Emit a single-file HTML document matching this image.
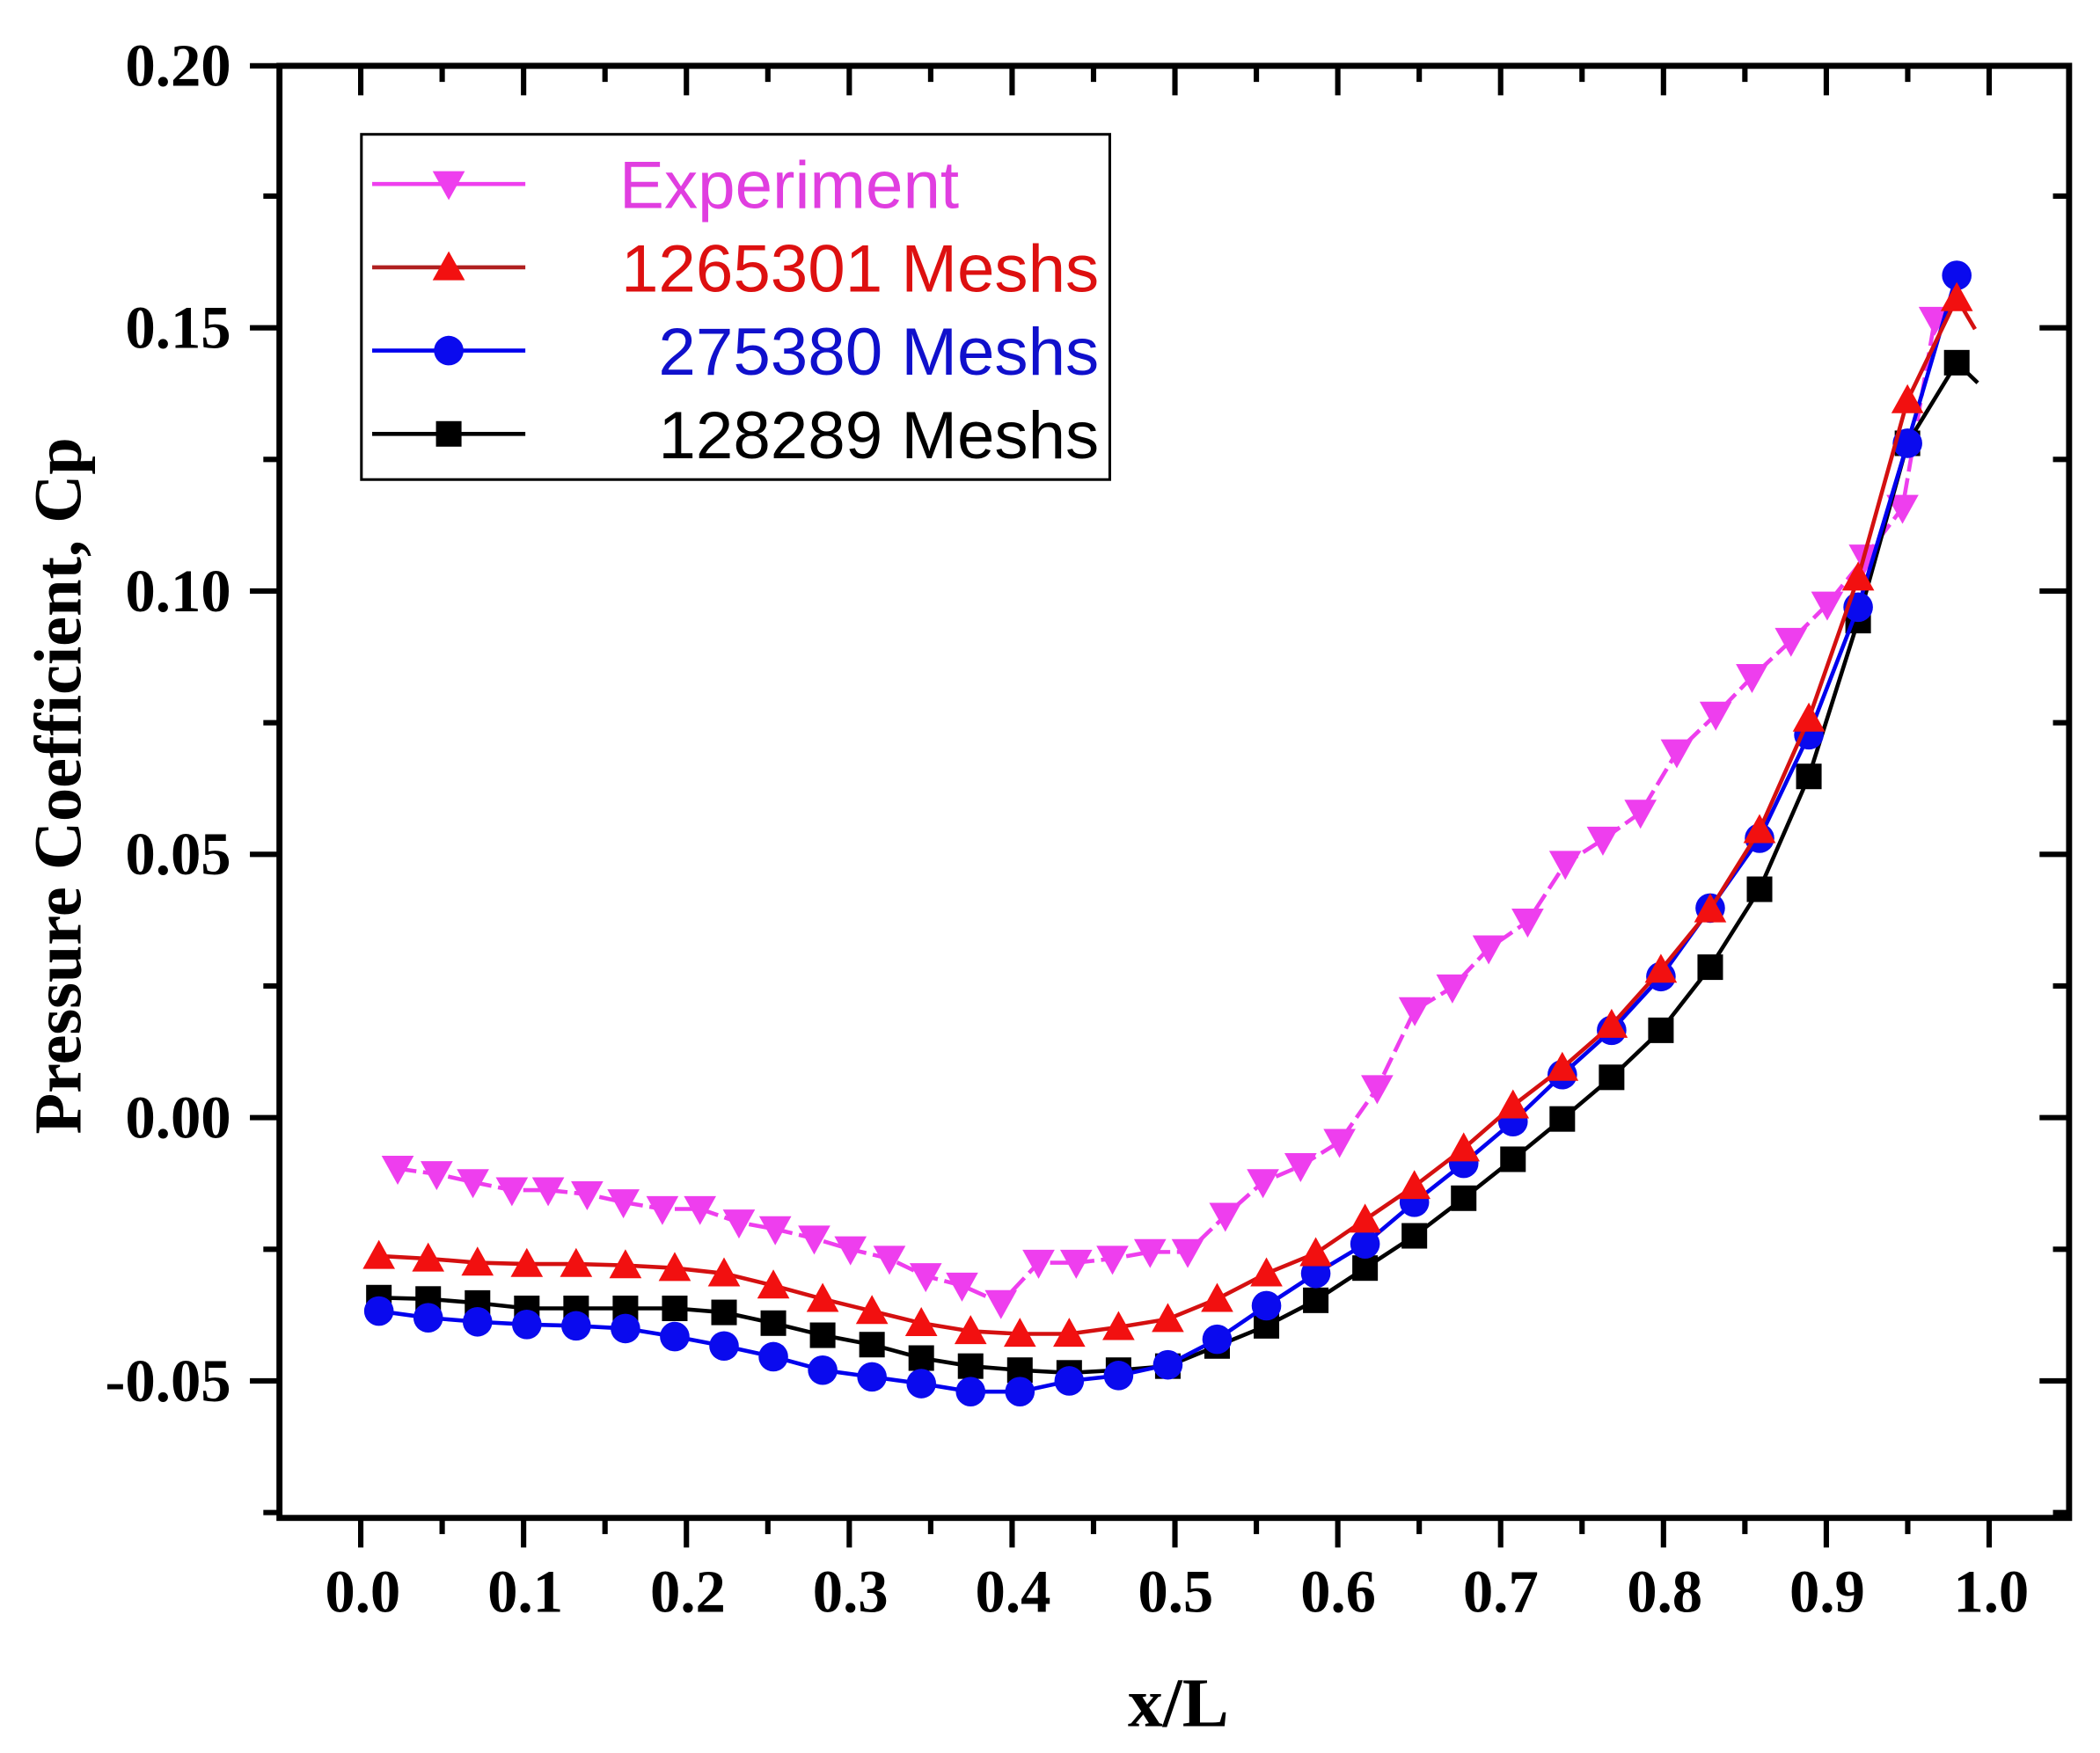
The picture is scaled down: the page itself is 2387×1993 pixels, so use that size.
<!DOCTYPE html>
<html><head><meta charset="utf-8"><style>html,body{margin:0;padding:0;background:#fff}svg{display:block}</style></head>
<body>
<svg width="2387" height="1993" viewBox="0 0 1563 1305" preserveAspectRatio="none" xmlns="http://www.w3.org/2000/svg" xmlns:xlink="http://www.w3.org/1999/xlink">
<defs>
<path id="dt" d="M-12,-9.6 L12,-9.6 L0,12Z" fill="#ee3eee"/>
<path id="ut" d="M-12,9.6 L12,9.6 L0,-12Z" fill="#f21010"/>
<circle id="ci" r="11" cx="0" cy="0" fill="#0a0aee"/>
<rect id="sq" x="-9.5" y="-9.5" width="19" height="19" fill="#000"/>
</defs>
<rect width="1563" height="1305" fill="#fff"/>
<g stroke="#000" stroke-width="4" fill="none">
<path d="M268.5,1130v22M329.1,1130v12M389.7,1130v22M450.3,1130v12M510.9,1130v22M571.5,1130v12M632.1,1130v22M692.7,1130v12M753.3,1130v22M813.9,1130v12M874.5,1130v22M935.1,1130v12M995.7,1130v22M1056.3,1130v12M1116.9,1130v22M1177.5,1130v12M1238.1,1130v22M1298.7,1130v12M1359.3,1130v22M1419.9,1130v12M1480.5,1130v22"/>
<path d="M268.5,49v22M329.1,49v12M389.7,49v22M450.3,49v12M510.9,49v22M571.5,49v12M632.1,49v22M692.7,49v12M753.3,49v22M813.9,49v12M874.5,49v22M935.1,49v12M995.7,49v22M1056.3,49v12M1116.9,49v22M1177.5,49v12M1238.1,49v22M1298.7,49v12M1359.3,49v22M1419.9,49v12M1480.5,49v22"/>
<path d="M208,1126h-12M208,1028h-22M208,930h-12M208,832h-22M208,734h-12M208,636h-22M208,538h-12M208,440h-22M208,342h-12M208,244h-22M208,146h-12M208,49h-22"/>
<path d="M1540,1126h-12M1540,1028h-22M1540,930h-12M1540,832h-22M1540,734h-12M1540,636h-22M1540,538h-12M1540,440h-22M1540,342h-12M1540,244h-22M1540,146h-12"/>
</g>
<rect x="208" y="49" width="1332" height="1081" fill="none" stroke="#000" stroke-width="4.5"/>
<g font-family="Liberation Serif, serif" font-weight="bold" font-size="45" text-anchor="middle">
<text x="270" y="1200">0.0</text><text x="391" y="1200">0.1</text><text x="512" y="1200">0.2</text><text x="633" y="1200">0.3</text><text x="754" y="1200">0.4</text><text x="875" y="1200">0.5</text><text x="996" y="1200">0.6</text><text x="1117" y="1200">0.7</text><text x="1239" y="1200">0.8</text><text x="1360" y="1200">0.9</text><text x="1482" y="1200">1.0</text>
</g>
<g font-family="Liberation Serif, serif" font-weight="bold" font-size="45" text-anchor="end">
<text x="172" y="1043">-0.05</text><text x="172" y="847">0.00</text><text x="172" y="651">0.05</text><text x="172" y="455">0.10</text><text x="172" y="259">0.15</text><text x="172" y="64">0.20</text>
</g>
<text x="877" y="1285" text-anchor="middle" font-family="Liberation Serif, serif" font-weight="bold" font-size="52">x/L</text>
<text x="0" y="0" transform="translate(60,585) rotate(-90)" text-anchor="middle" font-family="Liberation Serif, serif" font-weight="bold" font-size="50">Pressure Coefficient, Cp</text>

<polyline fill="none" stroke="#ee3eee" stroke-width="3" stroke-dasharray="14,5" points="296,870 325,874 352,880 381,886 408,886 437,889 464,895 493,900 521,900 550,910 577,915 606,922 633,930 662,937 689,950 716,957 745,970 773,940 801,940 828,937 856,932 884,932 912,905 940,880 968,868 997,850 1025,810 1053,752 1081,735 1108,706 1137,686 1165,643 1193,625 1221,605 1248,560 1277,532 1304,504 1333,477 1360,450 1388,415 1416,378 1440,238"/>
<g>
<use xlink:href="#dt" x="296" y="870"/><use xlink:href="#dt" x="325" y="874"/><use xlink:href="#dt" x="352" y="880"/><use xlink:href="#dt" x="381" y="886"/><use xlink:href="#dt" x="408" y="886"/><use xlink:href="#dt" x="437" y="889"/><use xlink:href="#dt" x="464" y="895"/><use xlink:href="#dt" x="493" y="900"/><use xlink:href="#dt" x="521" y="900"/><use xlink:href="#dt" x="550" y="910"/><use xlink:href="#dt" x="577" y="915"/><use xlink:href="#dt" x="606" y="922"/><use xlink:href="#dt" x="633" y="930"/><use xlink:href="#dt" x="662" y="937"/><use xlink:href="#dt" x="689" y="950"/><use xlink:href="#dt" x="716" y="957"/><use xlink:href="#dt" x="745" y="970"/><use xlink:href="#dt" x="773" y="940"/><use xlink:href="#dt" x="801" y="940"/><use xlink:href="#dt" x="828" y="937"/><use xlink:href="#dt" x="856" y="932"/><use xlink:href="#dt" x="884" y="932"/><use xlink:href="#dt" x="912" y="905"/><use xlink:href="#dt" x="940" y="880"/><use xlink:href="#dt" x="968" y="868"/><use xlink:href="#dt" x="997" y="850"/><use xlink:href="#dt" x="1025" y="810"/><use xlink:href="#dt" x="1053" y="752"/><use xlink:href="#dt" x="1081" y="735"/><use xlink:href="#dt" x="1108" y="706"/><use xlink:href="#dt" x="1137" y="686"/><use xlink:href="#dt" x="1165" y="643"/><use xlink:href="#dt" x="1193" y="625"/><use xlink:href="#dt" x="1221" y="605"/><use xlink:href="#dt" x="1248" y="560"/><use xlink:href="#dt" x="1277" y="532"/><use xlink:href="#dt" x="1304" y="504"/><use xlink:href="#dt" x="1333" y="477"/><use xlink:href="#dt" x="1360" y="450"/><use xlink:href="#dt" x="1388" y="415"/><use xlink:href="#dt" x="1416" y="378"/><use xlink:href="#dt" x="1440" y="238"/>
</g>

<polyline fill="none" stroke="#000" stroke-width="3" points="282,966 318.7,967 355.4,970 392.1,974 428.8,974 465.5,974 502.2,974 538.9,977 575.6,985 612.3,994 649,1001 685.7,1011 722.4,1017 759.1,1020 795.8,1022 832.5,1020 869.2,1017 905.9,1002 942.6,987 979.3,968 1016,944 1052.7,920 1089.4,892 1126.1,863 1162.8,833 1199.5,802 1236.2,767 1272.9,720 1309.6,662 1346.3,578 1383,462 1419.7,330 1456.4,270 1472,285"/>
<g>
<use xlink:href="#sq" x="282" y="966"/><use xlink:href="#sq" x="318.7" y="967"/><use xlink:href="#sq" x="355.4" y="970"/><use xlink:href="#sq" x="392.1" y="974"/><use xlink:href="#sq" x="428.8" y="974"/><use xlink:href="#sq" x="465.5" y="974"/><use xlink:href="#sq" x="502.2" y="974"/><use xlink:href="#sq" x="538.9" y="977"/><use xlink:href="#sq" x="575.6" y="985"/><use xlink:href="#sq" x="612.3" y="994"/><use xlink:href="#sq" x="649" y="1001"/><use xlink:href="#sq" x="685.7" y="1011"/><use xlink:href="#sq" x="722.4" y="1017"/><use xlink:href="#sq" x="759.1" y="1020"/><use xlink:href="#sq" x="795.8" y="1022"/><use xlink:href="#sq" x="832.5" y="1020"/><use xlink:href="#sq" x="869.2" y="1017"/><use xlink:href="#sq" x="905.9" y="1002"/><use xlink:href="#sq" x="942.6" y="987"/><use xlink:href="#sq" x="979.3" y="968"/><use xlink:href="#sq" x="1016" y="944"/><use xlink:href="#sq" x="1052.7" y="920"/><use xlink:href="#sq" x="1089.4" y="892"/><use xlink:href="#sq" x="1126.1" y="863"/><use xlink:href="#sq" x="1162.8" y="833"/><use xlink:href="#sq" x="1199.5" y="802"/><use xlink:href="#sq" x="1236.2" y="767"/><use xlink:href="#sq" x="1272.9" y="720"/><use xlink:href="#sq" x="1309.6" y="662"/><use xlink:href="#sq" x="1346.3" y="578"/><use xlink:href="#sq" x="1383" y="462"/><use xlink:href="#sq" x="1419.7" y="330"/><use xlink:href="#sq" x="1456.4" y="270"/>
</g>

<polyline fill="none" stroke="#0000ee" stroke-width="3" points="282,976 318.7,981 355.4,984 392.1,986 428.8,987 465.5,989 502.2,995 538.9,1002 575.6,1010 612.3,1020 649,1025 685.7,1030 722.4,1036 759.1,1036 795.8,1028 832.5,1024 869.2,1016 905.9,997 942.6,972 979.3,948 1016,926 1052.7,895 1089.4,866 1126.1,835 1162.8,800 1199.5,767 1236.2,727 1272.9,676 1309.6,624 1346.3,547 1383,452 1419.7,330 1456.4,205"/>
<g>
<use xlink:href="#ci" x="282" y="976"/><use xlink:href="#ci" x="318.7" y="981"/><use xlink:href="#ci" x="355.4" y="984"/><use xlink:href="#ci" x="392.1" y="986"/><use xlink:href="#ci" x="428.8" y="987"/><use xlink:href="#ci" x="465.5" y="989"/><use xlink:href="#ci" x="502.2" y="995"/><use xlink:href="#ci" x="538.9" y="1002"/><use xlink:href="#ci" x="575.6" y="1010"/><use xlink:href="#ci" x="612.3" y="1020"/><use xlink:href="#ci" x="649" y="1025"/><use xlink:href="#ci" x="685.7" y="1030"/><use xlink:href="#ci" x="722.4" y="1036"/><use xlink:href="#ci" x="759.1" y="1036"/><use xlink:href="#ci" x="795.8" y="1028"/><use xlink:href="#ci" x="832.5" y="1024"/><use xlink:href="#ci" x="869.2" y="1016"/><use xlink:href="#ci" x="905.9" y="997"/><use xlink:href="#ci" x="942.6" y="972"/><use xlink:href="#ci" x="979.3" y="948"/><use xlink:href="#ci" x="1016" y="926"/><use xlink:href="#ci" x="1052.7" y="895"/><use xlink:href="#ci" x="1089.4" y="866"/><use xlink:href="#ci" x="1126.1" y="835"/><use xlink:href="#ci" x="1162.8" y="800"/><use xlink:href="#ci" x="1199.5" y="767"/><use xlink:href="#ci" x="1236.2" y="727"/><use xlink:href="#ci" x="1272.9" y="676"/><use xlink:href="#ci" x="1309.6" y="624"/><use xlink:href="#ci" x="1346.3" y="547"/><use xlink:href="#ci" x="1383" y="452"/><use xlink:href="#ci" x="1419.7" y="330"/><use xlink:href="#ci" x="1456.4" y="205"/>
</g>

<polyline fill="none" stroke="#d41010" stroke-width="3" points="282,935 318.7,937 355.4,940 392.1,941 428.8,941 465.5,942 502.2,944 538.9,948 575.6,957 612.3,967 649,976 685.7,985 722.4,991 759.1,993 795.8,993 832.5,988 869.2,982 905.9,967 942.6,948 979.3,933 1016,908 1052.7,883 1089.4,855 1126.1,823 1162.8,795 1199.5,763 1236.2,722 1272.9,677 1309.6,618 1346.3,535 1383,430 1419.7,298 1456.4,222 1470,245"/>
<g>
<use xlink:href="#ut" x="282" y="935"/><use xlink:href="#ut" x="318.7" y="937"/><use xlink:href="#ut" x="355.4" y="940"/><use xlink:href="#ut" x="392.1" y="941"/><use xlink:href="#ut" x="428.8" y="941"/><use xlink:href="#ut" x="465.5" y="942"/><use xlink:href="#ut" x="502.2" y="944"/><use xlink:href="#ut" x="538.9" y="948"/><use xlink:href="#ut" x="575.6" y="957"/><use xlink:href="#ut" x="612.3" y="967"/><use xlink:href="#ut" x="649" y="976"/><use xlink:href="#ut" x="685.7" y="985"/><use xlink:href="#ut" x="722.4" y="991"/><use xlink:href="#ut" x="759.1" y="993"/><use xlink:href="#ut" x="795.8" y="993"/><use xlink:href="#ut" x="832.5" y="988"/><use xlink:href="#ut" x="869.2" y="982"/><use xlink:href="#ut" x="905.9" y="967"/><use xlink:href="#ut" x="942.6" y="948"/><use xlink:href="#ut" x="979.3" y="933"/><use xlink:href="#ut" x="1016" y="908"/><use xlink:href="#ut" x="1052.7" y="883"/><use xlink:href="#ut" x="1089.4" y="855"/><use xlink:href="#ut" x="1126.1" y="823"/><use xlink:href="#ut" x="1162.8" y="795"/><use xlink:href="#ut" x="1199.5" y="763"/><use xlink:href="#ut" x="1236.2" y="722"/><use xlink:href="#ut" x="1272.9" y="677"/><use xlink:href="#ut" x="1309.6" y="618"/><use xlink:href="#ut" x="1346.3" y="535"/><use xlink:href="#ut" x="1383" y="430"/><use xlink:href="#ut" x="1419.7" y="298"/><use xlink:href="#ut" x="1456.4" y="222"/>
</g>

<rect x="269" y="100" width="557" height="257" fill="#fff" stroke="#000" stroke-width="2"/>
<line x1="277" y1="137" x2="391" y2="137" stroke="#ee3eee" stroke-width="3"/><use xlink:href="#dt" x="334" y="137"/>
<line x1="277" y1="199" x2="391" y2="199" stroke="#b02020" stroke-width="3"/><use xlink:href="#ut" x="334" y="199"/>
<line x1="277" y1="261" x2="391" y2="261" stroke="#0000ee" stroke-width="3"/><use xlink:href="#ci" x="334" y="261"/>
<line x1="277" y1="323" x2="391" y2="323" stroke="#000" stroke-width="3"/><use xlink:href="#sq" x="334" y="323"/>
<g font-family="Liberation Sans, sans-serif" font-size="50">
<text x="461" y="155" fill="#e03ee0">Experiment</text>
<text x="818" y="217" fill="#dd1010" text-anchor="end">1265301 Meshs</text>
<text x="818" y="279" fill="#1010cc" text-anchor="end">275380 Meshs</text>
<text x="818" y="341" fill="#000" text-anchor="end">128289 Meshs</text>
</g>
</svg>
</body></html>
